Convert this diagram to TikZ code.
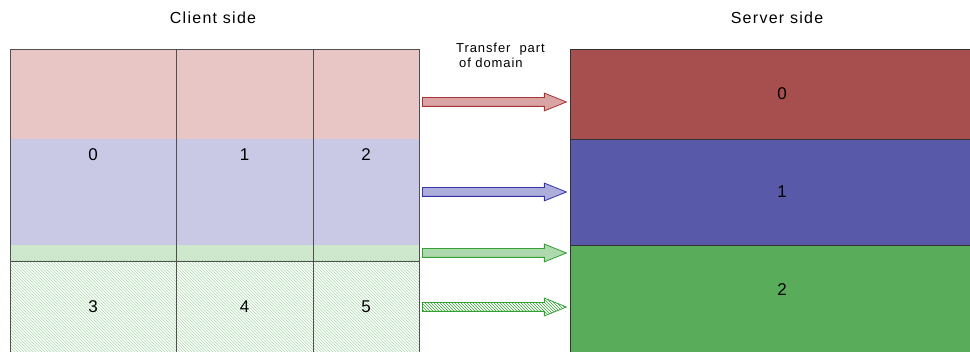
\documentclass[tikz,border=0pt]{standalone}
\usepackage{fontspec}
\setmainfont{Liberation Sans}
\usetikzlibrary{shapes.arrows,patterns}
\definecolor{cRed}{HTML}{E8C6C6}
\definecolor{cBlue}{HTML}{C9C9E6}
\definecolor{cGreen}{HTML}{CDE8CD}
\definecolor{hGreen}{HTML}{A8D8A8}
\definecolor{sRed}{HTML}{A64F4E}
\definecolor{sBlue}{HTML}{5859A9}
\definecolor{sGreen}{HTML}{59AC5A}
\definecolor{aRed}{HTML}{A83434}
\definecolor{aBlue}{HTML}{3434A8}
\definecolor{aGreen}{HTML}{34A034}
\definecolor{grid}{HTML}{505050}
\begin{document}
\begin{tikzpicture}[x=1pt,y=-1pt,
  band/.style={draw=none, inner sep=0pt, minimum width=409pt},
  cell/.style={draw=grid, line width=0.8pt, inner sep=0pt, font=\fontsize{17}{20}\selectfont},
  srv/.style={draw=black!80, line width=0.8pt, inner sep=0pt, minimum width=424pt, font=\fontsize{17}{20}\selectfont},
  title/.style={inner sep=0pt, font=\fontsize{16}{19}\selectfont\addfontfeatures{LetterSpace=8}},
  fat/.style={single arrow, anchor=tail, line width=0.8pt, minimum height=144pt, inner xsep=0pt, inner ysep=4pt,
    single arrow head extend=4.5pt, single arrow head indent=0pt, single arrow tip angle=44}
]
\useasboundingbox (0,0) rectangle (970,352);
\clip (0,0) rectangle (970,352);
% client colour bands
\node[band, fill=cRed,   minimum height=90pt] (bR) at (214.5,94) {};
\node[band, fill=cBlue,  minimum height=106pt] (bB) at (214.5,192) {};
\node[band, fill=cGreen, minimum height=16pt] (bG) at (214.5,253) {};
\node[band, pattern=north west lines, pattern color=hGreen, minimum height=92pt] (bH) at (214.5,307) {};
% client cells
\node[cell, minimum width=166pt, minimum height=212pt] (c0) at (93,155) {0};
\node[cell, minimum width=137pt, minimum height=212pt] (c1) at (244.5,155) {1};
\node[cell, minimum width=106pt, minimum height=212pt] (c2) at (366,155) {2};
\node[cell, minimum width=166pt, minimum height=92pt] (c3) at (93,307) {3};
\node[cell, minimum width=137pt, minimum height=92pt] (c4) at (244.5,307) {4};
\node[cell, minimum width=106pt, minimum height=92pt] (c5) at (366,307) {5};
% server
\node[srv, fill=sRed,  minimum height=90pt]  (s0) at (782,94) {0};
\node[srv, fill=sBlue, minimum height=106pt] (s1) at (782,192) {1};
\node[srv, fill=sGreen, minimum height=108pt] (s2) at (782,299) {};
\node[inner sep=0pt, font=\fontsize{17}{20}\selectfont] (s2l) at (782,290) {2};
% titles
\node[title] (tc) at (213,18) {Client side};
\node[title] (ts) at (777,18) {Server side};
\node[inner sep=0pt, anchor=north west, align=left, font=\fontsize{13}{15}\selectfont\addfontfeatures{LetterSpace=7}] (tr) at (456,43)
  {Transfer\ \ part\\\hspace{3pt}of domain};
% arrows
\node[fat, draw=aRed, fill=aRed!45] (aR) at (422,102) {};
\node[fat, draw=aBlue, fill=aBlue!40] (aB) at (422,192) {};
\node[fat, draw=aGreen, fill=aGreen!40] (aG) at (422,253) {};
\node[fat, draw=aGreen, pattern=north west lines, pattern color=aGreen] (aH) at (422,307) {};
\end{tikzpicture}
\end{document}
